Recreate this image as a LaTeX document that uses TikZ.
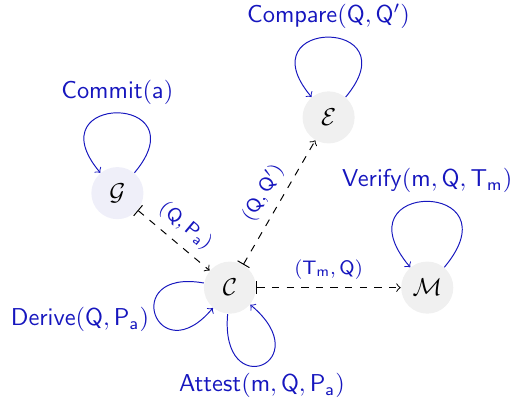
\documentclass[tikz,border=0pt]{standalone}
\definecolor{lblblue}{RGB}{22,22,190}
\definecolor{nodegray}{RGB}{240,240,240}
\definecolor{nodeblue}{RGB}{239,239,249}
\begin{document}
\begin{tikzpicture}[>=to, font=\sffamily,
	state/.style={circle, fill=nodegray, minimum size=0.75cm, inner sep=0pt},
	selfloop/.style={->, lblblue, distance=1.5cm},
	msg/.style={|->, dashed, black},
	msglabel/.style={lblblue, font=\sffamily\footnotesize}]
	\useasboundingbox (-3.31,-1.67) rectangle (4.06,4.14);
	
	% 1. 状态节点
	\node[state] (C) at (0,0) {$\mathcal{C}$};
	\node[state, fill=nodeblue] (G) at (-1.62,1.36) {$\mathcal{G}$};
	\node[state] (E) at (1.42,2.45) {$\mathcal{E}$};
	\node[state] (M) at (2.84,0) {$\mathcal{M}$};
	
	% 2. 自环与标签
	\draw[selfloop] (G) to[out=50, in=130] node[above] (commitlbl) {$\mathsf{Commit}(\mathsf{a})$} (G);
	\draw[selfloop] (E) to[out=50, in=130] node[above] (comparelbl) {$\mathsf{Compare}(\mathsf{Q}, \mathsf{Q}')$} (E);
	\draw[selfloop, distance=1.65cm] (M) to[out=50, in=130] node[above] (verifylbl) {$\mathsf{Verify}(\mathsf{m}, \mathsf{Q}, \mathsf{T_m})$} (M);
	\draw[selfloop, distance=1.25cm] (C) to[out=170, in=230] node[pos=0.55, left] (derivelbl) {$\mathsf{Derive}(\mathsf{Q}, \mathsf{P_a})$} (C);
	\draw[selfloop, distance=1.3cm] (C) to[out=265, in=320] node[below] (attestlbl) {$\mathsf{Attest}(\mathsf{m}, \mathsf{Q}, \mathsf{P_a})$} (C);
	
	% 3. 消息传递 (虚线)
	\draw[msg] (G) -- node[msglabel, sloped, above] (qpa) {$(\mathsf{Q}, \mathsf{P_a})$} (C);
	\draw[msg] (C) -- node[msglabel, sloped, above] (qq) {$(\mathsf{Q}, \mathsf{Q}')$} (E);
	\draw[msg] (C) -- node[msglabel, above] (tmq) {$(\mathsf{T_m}, \mathsf{Q})$} (M);
\end{tikzpicture}
\end{document}
